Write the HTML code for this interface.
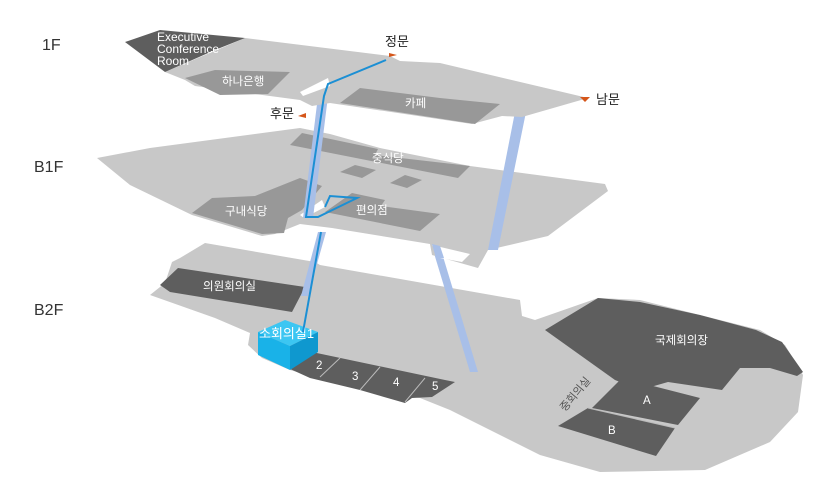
<!DOCTYPE html>
<html><head><meta charset="utf-8"><style>
body{margin:0;background:#fff;}
svg{display:block;font-family:"Liberation Sans","Noto Sans CJK KR",sans-serif;}
.lt{fill:#c8c8c8;}
.md{fill:#989898;}
.dk{fill:#5e5e5e;}
.pl{fill:#a8bfe8;}
.w{fill:#fff;font-size:11.5px;}
.lb{fill:#222;font-size:13px;}
.fl{fill:#333;font-size:16px;}
</style></head><body>
<svg width="820" height="492" viewBox="0 0 820 492">
<!-- B2F floor -->
<polygon class="lt" points="205,243 315,262 320,265 520,300 522,316 535,320 598,298 640,300 700,315 760,330 785,345 803,375 798,412 770,442 705,470 600,472 540,455 450,410 420,398 360,390 290,370 262,358 248,345 250,333 215,318 150,295 165,283 172,262 180,258"/>
<polygon class="dk" points="160,285 178,268 305,287 292,312 170,292"/>
<polygon class="dk" points="288,368 312,352 445,380 455,382 432,397 412,398 405,403 360,390 310,378"/>
<g stroke="#bbb" stroke-width="1"><line x1="320" y1="377" x2="340" y2="358"/><line x1="360" y1="390" x2="380" y2="367"/><line x1="405" y1="402" x2="425" y2="378"/></g>
<polygon class="dk" points="545,330 598,298 640,302 700,315 756,330 782,342 803,372 797,376 770,368 740,368 722,390 668,382 640,390 615,380"/>
<polygon class="dk" points="592,408 622,378 700,398 678,425"/>
<polygon class="dk" points="558,426 588,408 675,428 656,456"/>
<line x1="588" y1="408" x2="675" y2="428" stroke="#bbb"/>
<text class="w" x="316" y="369">2</text><text class="w" x="352" y="380">3</text><text class="w" x="393" y="386">4</text><text class="w" x="432" y="390">5</text>
<text class="w" x="203" y="290">의원회의실</text>
<text class="w" x="655" y="344">국제회의장</text>
<text class="w" x="643" y="404">A</text><text class="w" x="608" y="434">B</text>
<text x="565" y="412" fill="#555" font-size="11" transform="rotate(-50 565 412)">중회의실</text>
<!-- cube -->
<polygon fill="#3cc6f2" points="258,332 285,320 318,332 290,346"/>
<polygon fill="#19b2e8" points="258,332 290,346 290,370 258,355"/>
<polygon fill="#0f98cf" points="290,346 318,332 318,352 290,370"/>
<text x="259" y="338" fill="#fff" font-size="13">소회의실1</text>
<!-- pillars B1F->B2F -->
<polygon class="pl" points="318,232 326,232 308,296 301,296"/>
<polygon class="pl" points="430,240 438,240 478,372 470,372"/>
<!-- B1F floor -->
<polygon class="lt" points="97,158 150,148 300,128 330,134 380,148 470,166 605,184 608,191 548,236 488,250 478,268 432,255 430,244 332,228 300,224 275,234 262,236 192,215 130,185"/>
<polygon fill="#fff" points="432,245 470,254 462,262 440,258"/>
<polygon class="pl" points="432,244 440,246 444,258 436,258"/>
<polygon class="md" points="290,145 302,133 378,149 375,155 470,166 458,178"/>
<polygon class="md" points="340,172 355,165 376,170 362,178"/>
<polygon class="md" points="390,183 405,175 422,180 407,188"/>
<polygon class="md" points="325,212 352,193 385,200 381,206 440,214 420,231"/>
<polygon class="md" points="192,213 212,198 255,196 300,178 322,186 302,210 288,218 284,233 262,234"/>
<polygon fill="#fff" points="300,215 322,200 325,207 304,218"/>
<text class="w" x="372" y="162">중식당</text>
<text class="w" x="356" y="214">편의점</text>
<text class="w" x="225" y="215">구내식당</text>
<!-- pillars 1F->B1F -->
<polygon class="pl" points="318,96 328,96 313,218 303,218"/>
<polygon class="pl" points="515,112 526,112 498,250 488,250"/>
<!-- 1F floor -->
<polygon class="lt" points="165,72 245,38 390,56 400,61 440,63 588,98 522,117 502,116 472,124 330,103 312,106 300,100 240,92 195,86 185,80"/>
<polygon class="dk" points="125,42 160,30 245,38 215,50 165,72"/>
<polygon class="md" points="185,78 215,70 290,72 268,94 220,95"/>
<polygon class="md" points="340,103 360,88 440,98 500,104 475,124"/>
<polygon fill="#fff" points="300,92 328,78 330,86 303,96"/>
<text x="157" y="41" fill="#fff" font-size="12">Executive</text>
<text x="157" y="53" fill="#fff" font-size="12">Conference</text>
<text x="157" y="65" fill="#fff" font-size="12">Room</text>
<text class="w" x="222" y="85">하나은행</text>
<text class="w" x="405" y="107">카페</text>
<!-- path -->
<polyline fill="none" stroke="#1b8fd4" stroke-width="2" points="386,60 328,84 324,96 306,217 318,217 357,198 330,196 325,207"/>
<polyline fill="none" stroke="#1b8fd4" stroke-width="2" points="321,232 303,332"/>
<!-- doors -->
<polygon fill="#d5561a" points="389,53 397,55 389,57"/>
<polygon fill="#d5561a" points="580,97 590,97 585,102"/>
<polygon fill="#d5561a" points="298,116 306,113 306,118"/>
<text class="lb" x="385" y="46">정문</text>
<text class="lb" x="596" y="104">남문</text>
<text class="lb" x="270" y="118">후문</text>
<text class="fl" x="42" y="50">1F</text>
<text class="fl" x="34" y="172">B1F</text>
<text class="fl" x="34" y="315">B2F</text>
</svg>
</body></html>
